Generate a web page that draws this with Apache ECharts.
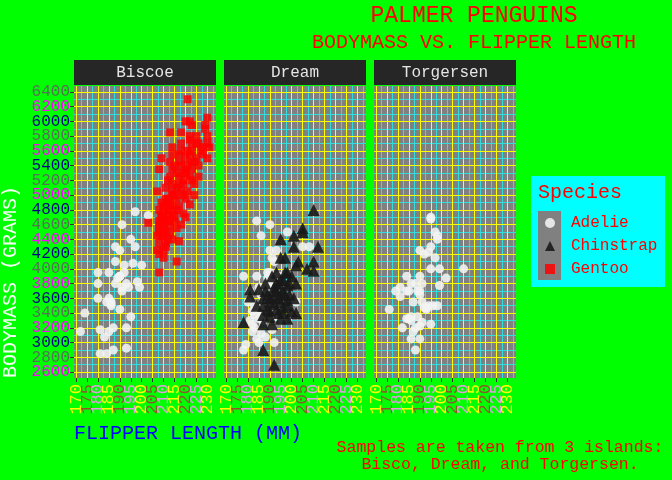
<!DOCTYPE html>
<html>
<head>
<meta charset="utf-8">
<script src="https://cdn.jsdelivr.net/npm/echarts@6/dist/echarts.min.js"></script>
<style>
html, body { margin: 0; padding: 0; background: #00ff00; }
#chart { width: 672px; height: 480px; }
</style>
</head>
<body>
<div id="chart"></div>
<script>
// 企鹅数据：[鳍长 mm, 体重 g]
const islands = ['Biscoe', 'Dream', 'Torgersen']
const speciesNames = ['Adelie', 'Chinstrap', 'Gentoo']
const xMin = 169.05
const xMax = 233.95
const yMin = 2520
const yMax = 6480
const xTicks = [170, 175, 180, 185, 190, 195, 200, 205, 210, 215, 220, 225, 230]
const xMinorTicks = [172.5, 177.5, 182.5, 187.5, 192.5, 197.5, 202.5, 207.5, 212.5, 217.5, 222.5, 227.5, 232.5]
const yTicks = [2600, 2800, 3000, 3200, 3400, 3600, 3800, 4000, 4200, 4400, 4600, 4800, 5000, 5200, 5400, 5600, 5800, 6000, 6200, 6400]
const yMinorTicks = [2700, 2900, 3100, 3300, 3500, 3700, 3900, 4100, 4300, 4500, 4700, 4900, 5100, 5300, 5500, 5700, 5900, 6100, 6300]

const biscoeAdelie = [
  [197, 4775], [203, 4725], [191, 4600], [195, 4400], [188, 4300], [190, 4250], [197, 4300], [188, 4100],
  [192, 4050], [196, 4075], [200, 4050], [180, 3950], [185, 3950], [192, 3950], [190, 3900], [189, 3875],
  [180, 3800], [188, 3800], [193, 3800], [198, 3825], [191, 3750], [194, 3750], [199, 3750], [191, 3700],
  [180, 3600], [184, 3550], [185, 3600], [186, 3550], [186, 3500], [190, 3450], [174, 3400], [195, 3350],
  [172, 3150], [181, 3175], [183, 3075], [185, 3150], [187, 3200], [193, 3200], [181, 2850], [184, 2850],
  [187, 2900], [193, 2925], [186, 3525], [190, 3900]
]
const biscoeGentoo = [
  [221, 6300], [220, 6000], [222, 6000], [223, 5950], [230, 6050], [229, 5950], [213, 5850], [218, 5850],
  [229, 5900], [222, 5750], [218, 5700], [225, 5700], [230, 5800], [230, 5700], [214, 5650], [231, 5650],
  [218, 5600], [223, 5600], [227, 5600], [214, 5550], [209, 5500], [220, 5500], [225, 5500], [230, 5500],
  [213, 5450], [217, 5450], [223, 5450], [226, 5400], [208, 5350], [214, 5350], [220, 5350], [223, 5350],
  [217, 5250], [222, 5250], [226, 5250], [212, 5200], [219, 5200], [223, 5200], [214, 5150], [219, 5150],
  [211, 5100], [224, 5150], [207, 5050], [214, 5050], [218, 5050], [224, 5000], [211, 4950], [216, 4950],
  [220, 4950], [210, 4850], [214, 4850], [217, 4850], [222, 4875], [208, 4800], [212, 4800], [216, 4800],
  [219, 4750], [209, 4725], [214, 4725], [220, 4700], [203, 4625], [208, 4650], [211, 4650], [215, 4650],
  [208, 4600], [213, 4600], [218, 4600], [208, 4500], [211, 4500], [207, 4450], [210, 4450], [214, 4400],
  [217, 4375], [208, 4350], [211, 4350], [207, 4250], [210, 4250], [208, 4200], [210, 4150], [216, 4100],
  [208, 3950], [209, 4700], [210, 4600], [212, 4750], [213, 4900], [214, 5000], [215, 4800], [216, 5100],
  [210, 4550], [211, 4850], [215, 4700], [212, 4400], [208, 4550], [209, 4450], [211, 4300], [213, 4500],
  [220, 5300], [221, 5400], [222, 5550], [223, 5700], [224, 5450], [219, 5000], [218, 5400], [216, 5300],
  [217, 5550], [225, 5800], [228, 5650], [226, 5700], [221, 5050], [213, 5250], [215, 5000], [210, 4750],
  [212, 4950], [209, 4900], [216, 4550], [217, 5150], [219, 5300], [221, 5600], [222, 5800], [215, 5400],
  [212, 4650], [228, 5550]
]
const dreamAdelie = [
  [184, 4650], [190, 4600], [186, 4450], [198, 4500], [190, 4250], [193, 4250], [205, 4300], [208, 4300],
  [191, 4150], [192, 4100], [189, 3950], [178, 3900], [184, 3900], [189, 3875], [194, 3900], [189, 3775],
  [180, 3550], [202, 3550], [184, 3475], [186, 3450], [192, 3450], [182, 3425], [181, 3300], [183, 3375],
  [185, 3325], [191, 3175], [182, 3150], [186, 3125], [188, 3075], [185, 3000], [192, 3000], [179, 2975],
  [178, 2900], [190, 3950], [183, 3500], [186, 3400], [188, 3550], [190, 3700], [192, 3350], [195, 3600],
  [186, 3650], [189, 3400], [191, 3800], [187, 3300], [193, 3500], [197, 3750], [185, 3750], [183, 3200],
  [181, 3700], [184, 3050], [196, 3300], [187, 3425], [189, 3500], [182, 3250], [190, 3475], [188, 3350]
]
const dreamChinstrap = [
  [210, 4800], [205, 4550], [205, 4500], [201, 4450], [195, 4400], [201, 4300], [212, 4300], [195, 4150],
  [197, 4150], [210, 4100], [203, 4100], [202, 4050], [207, 4000], [210, 3975], [198, 3950], [196, 3850],
  [202, 3800], [193, 3800], [198, 3775], [181, 3725], [185, 3725], [188, 3700], [192, 3700], [195, 3650],
  [181, 3625], [190, 3600], [194, 3600], [198, 3575], [187, 3500], [192, 3525], [196, 3475], [200, 3425],
  [202, 3400], [190, 3425], [187, 3375], [195, 3325], [198, 3325], [178, 3275], [187, 3250], [191, 3250],
  [187, 2900], [192, 2700], [188, 3800], [189, 3650], [192, 3750], [193, 3450], [195, 3550], [196, 3700],
  [190, 3350], [191, 3900], [194, 3800], [197, 3950], [199, 3650], [198, 3500], [187, 3600], [189, 3450],
  [192, 3600], [195, 3850], [193, 3950], [196, 3400], [201, 3600], [200, 3900], [184, 3500], [193, 3700],
  [190, 3550], [197, 3650], [199, 3800], [194, 3400]
]
const torgersenAdelie = [
  [195, 4700], [195, 4675], [197, 4500], [198, 4450], [198, 4400], [190, 4250], [195, 4300], [194, 4225],
  [192, 4200], [197, 4150], [195, 4000], [199, 4000], [210, 4000], [184, 3900], [190, 3900], [202, 3875],
  [186, 3800], [191, 3800], [199, 3775], [181, 3750], [179, 3700], [185, 3700], [190, 3700], [181, 3625],
  [190, 3650], [187, 3550], [193, 3475], [196, 3500], [198, 3500], [176, 3450], [184, 3325], [189, 3350],
  [186, 3300], [191, 3275], [195, 3250], [182, 3200], [188, 3200], [187, 3150], [186, 3050], [190, 3050],
  [188, 2900], [193, 3450], [189, 3700], [186, 3350], [191, 3550], [185, 3325], [192, 3475], [188, 3800],
  [184, 3700], [190, 3225], [194, 3500]
]

const FONT = 'Liberation Mono'
const xLabelColors = ['#ffff00', '#8b5a2b', '#dda0dd']
const yLabelColors = ['#ff00ff', '#5a6e5a', '#00008b']
const panelLeft = [74, 224, 374]
const panelTop = 86
const panelW = 142
const panelH = 292

const speciesStyle = {
  Adelie: { symbol: 'circle', symbolSize: 9, color: '#f2f2f2', opacity: 0.88 },
  Chinstrap: { symbol: 'triangle', symbolSize: 12, color: '#1a1a1a', opacity: 0.9 },
  Gentoo: { symbol: 'rect', symbolSize: 8, color: '#ff0000', opacity: 0.85 }
}

function makeSeries(name, idx, data) {
  const s = speciesStyle[name]
  return {
    name: name,
    type: 'scatter',
    xAxisIndex: idx,
    yAxisIndex: idx,
    z: 10,
    symbol: s.symbol,
    symbolSize: s.symbolSize,
    itemStyle: { color: s.color, opacity: s.opacity },
    data: data
  }
}

// 网格线：先画次网格(青色)，再画主网格(黄色)
function gridLineSeries(idx) {
  const minor = { color: '#33dddd', width: 1, type: 'solid' }
  const major = { color: '#ffff00', width: 1, type: 'solid' }
  const lines = []
  xMinorTicks.forEach(v => lines.push({ xAxis: v, lineStyle: minor }))
  yMinorTicks.forEach(v => lines.push({ yAxis: v, lineStyle: minor }))
  xTicks.forEach(v => lines.push({ xAxis: v, lineStyle: major }))
  yTicks.forEach(v => lines.push({ yAxis: v, lineStyle: major }))
  return {
    name: 'grid' + idx,
    type: 'scatter',
    xAxisIndex: idx,
    yAxisIndex: idx,
    z: 1,
    silent: true,
    data: [],
    markLine: {
      z: 1,
      silent: true,
      animation: false,
      symbol: ['none', 'none'],
      label: { show: false },
      emphasis: { disabled: true },
      data: lines
    }
  }
}

var myChart = echarts.init(document.getElementById('chart'))

const graphics = []
islands.forEach((isl, i) => {
  graphics.push({
    type: 'rect', left: panelLeft[i], top: 60,
    shape: { width: panelW, height: 25 },
    style: { fill: '#262626' }
  })
  graphics.push({
    type: 'text', x: panelLeft[i] + panelW / 2, y: 73,
    style: { text: isl, fill: '#e6e6e6', font: '16px "' + FONT + '"', textAlign: 'center', textVerticalAlign: 'middle' }
  })
})
graphics.push(
  {
    type: 'text', x: 474, y: 16,
    style: { text: 'PALMER PENGUINS', fill: '#ff0000', font: '23px "' + FONT + '"', textAlign: 'center', textVerticalAlign: 'middle' }
  },
  {
    type: 'text', x: 474, y: 43,
    style: { text: 'BODYMASS VS. FLIPPER LENGTH', fill: '#ff0000', font: '20px "' + FONT + '"', textAlign: 'center', textVerticalAlign: 'middle' }
  },
  {
    type: 'text', x: 11, y: 282, rotation: Math.PI / 2,
    style: { text: 'BODYMASS (GRAMS)', fill: '#f4fff4', font: '20px "' + FONT + '"', textAlign: 'center', textVerticalAlign: 'middle' }
  },
  {
    type: 'text', x: 74, y: 434,
    style: { text: 'FLIPPER LENGTH (MM)', fill: '#0000ff', font: '20px "' + FONT + '"', textAlign: 'left', textVerticalAlign: 'middle' }
  },
  {
    type: 'text', x: 500, y: 456,
    style: {
      text: 'Samples are taken from 3 islands:\nBisco, Dream, and Torgersen.',
      fill: '#ff0000', font: '16.5px "' + FONT + '"', textAlign: 'center', textVerticalAlign: 'middle', lineHeight: 17
    }
  },
  {
    type: 'rect', left: 531, top: 176, z: -1,
    shape: { width: 134, height: 111 },
    style: { fill: '#00ffff' }
  },
  {
    type: 'text', x: 538, y: 193,
    style: { text: 'Species', fill: '#ff0000', font: '20px "' + FONT + '"', textAlign: 'left', textVerticalAlign: 'middle' }
  },
  {
    type: 'rect', left: 538, top: 211, z: -1,
    shape: { width: 23, height: 69 },
    style: { fill: '#808080' }
  }
)

// 标签两端各加一个空标签，避免首尾真实标签被重叠检测隐藏
const xLabelValues = [xMin].concat(xTicks, [xMax])
const yLabelValues = [yMin].concat(yTicks, [yMax])

myChart.setOption({
  backgroundColor: '#00ff00',
  animation: false,
  textStyle: { fontFamily: FONT },
  legend: {
    data: speciesNames,
    orient: 'vertical',
    left: 545,
    top: 215,
    padding: 0,
    itemWidth: 10,
    itemHeight: 10,
    itemGap: 7,
    textStyle: { color: '#ff0000', fontSize: 16, fontFamily: FONT, lineHeight: 10, padding: [0, 0, 0, 11] }
  },
  graphic: graphics,
  grid: islands.map((isl, i) => ({
    left: panelLeft[i], top: panelTop, width: panelW, height: panelH,
    show: true, backgroundColor: '#808080', borderWidth: 0
  })),
  xAxis: islands.map((isl, i) => ({
    type: 'value',
    gridIndex: i,
    min: xMin,
    max: xMax,
    axisLine: { show: false },
    axisTick: { show: true, length: 4, customValues: xTicks, lineStyle: { color: '#333333' } },
    axisLabel: {
      show: true, rotate: 90, margin: 6, fontSize: 17, fontFamily: FONT, customValues: xLabelValues,
      showMinLabel: false, showMaxLabel: false, hideOverlap: false,
      formatter: v => (xTicks.indexOf(Number(v)) >= 0 ? String(v) : ''),
      color: v => xLabelColors[Math.round((Number(v) - 170) / 5) % 3] || '#ffff00'
    },
    splitLine: { show: false },
    minorSplitLine: { show: false }
  })),
  yAxis: islands.map((isl, i) => ({
    type: 'value',
    gridIndex: i,
    min: yMin,
    max: yMax,
    axisLine: { show: false },
    axisTick: { show: i === 0, length: 4, customValues: yTicks, lineStyle: { color: '#333333' } },
    axisLabel: {
      show: i === 0, margin: 4, fontSize: 16, fontFamily: FONT, customValues: yLabelValues,
      showMinLabel: false, showMaxLabel: false, hideOverlap: false,
      formatter: v => (yTicks.indexOf(Number(v)) >= 0 ? String(v) : ''),
      color: v => yLabelColors[Math.round((Number(v) - 2600) / 200) % 3] || '#ff00ff'
    },
    splitLine: { show: false },
    minorSplitLine: { show: false }
  })),
  series: [
    gridLineSeries(0),
    gridLineSeries(1),
    gridLineSeries(2),
    makeSeries('Adelie', 0, biscoeAdelie),
    makeSeries('Gentoo', 0, biscoeGentoo),
    makeSeries('Adelie', 1, dreamAdelie),
    makeSeries('Chinstrap', 1, dreamChinstrap),
    makeSeries('Adelie', 2, torgersenAdelie)
  ]
})
</script>
</body>
</html>
